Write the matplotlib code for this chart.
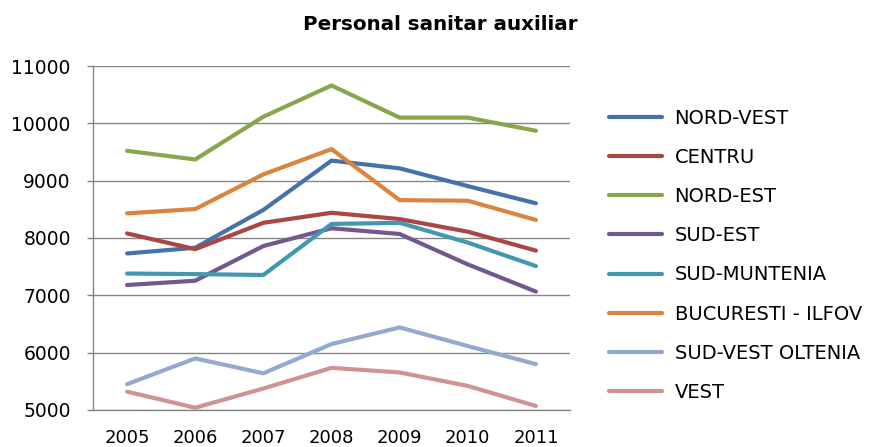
import matplotlib
matplotlib.use("Agg")
import matplotlib.pyplot as plt

years = ["2005", "2006", "2007", "2008", "2009", "2010", "2011"]
nord_vest = [7730, 7830, 8490, 9350, 9215, 8905, 8605]
centru = [8080, 7805, 8265, 8440, 8330, 8110, 7780]
nord_est = [9520, 9370, 10115, 10660, 10100, 10100, 9870]
sud_est = [7180, 7255, 7860, 8170, 8070, 7540, 7065]
sud_muntenia = [7380, 7370, 7355, 8245, 8265, 7920, 7510]
bucuresti = [8430, 8505, 9110, 9550, 8660, 8650, 8315]
sud_vest = [5450, 5900, 5640, 6150, 6440, 6115, 5800]
vest = [5320, 5040, 5375, 5735, 5655, 5420, 5070]

series = [
    ("NORD-VEST", nord_vest, "#4572A7"),
    ("CENTRU", centru, "#AA4643"),
    ("NORD-EST", nord_est, "#89A54E"),
    ("SUD-EST", sud_est, "#71588F"),
    ("SUD-MUNTENIA", sud_muntenia, "#4198AF"),
    ("BUCURESTI - ILFOV", bucuresti, "#DB843D"),
    ("SUD-VEST OLTENIA", sud_vest, "#93A9CF"),
    ("VEST", vest, "#D19392"),
]

plt.rcParams["font.family"] = ["DejaVu Sans"]

fig = plt.figure(figsize=(8.70, 4.47), dpi=100)
ax = fig.add_axes([93 / 870, 1 - 410 / 447, (570 - 93) / 870, (410 - 66) / 447])

x = list(range(len(years)))
for name, vals, col in series:
    ax.plot(x, vals, color=col, lw=3, label=name, solid_capstyle="round", solid_joinstyle="miter")

ax.set_xlim(-0.5, 6.5)
ax.set_ylim(5000, 11000)
ax.set_yticks(range(5000, 11001, 1000))
ax.set_xticks(x)
ax.set_xticklabels(years)
ax.tick_params(axis="x", length=0, pad=14, labelsize=13, colors="#000000")
ax.tick_params(axis="y", length=4, width=1, color="#868686", pad=12, labelsize=13.5)
ax.grid(axis="y", color="#868686", lw=1)
ax.set_axisbelow(True)
for s in ["top", "right"]:
    ax.spines[s].set_visible(False)
for s in ["left", "bottom"]:
    ax.spines[s].set_color("#868686")
    ax.spines[s].set_linewidth(1)

fig.text(440 / 870, 1 - 24 / 447, "Personal sanitar auxiliar", ha="center", va="center",
         fontsize=14.3, fontweight="bold")

fig.legend(loc="upper left", bbox_to_anchor=(591 / 870, 1 - 91 / 447), frameon=False,
           fontsize=14, handlelength=2.73, handletextpad=0.67, labelspacing=1.04)

fig.savefig("out.png", dpi=100)
